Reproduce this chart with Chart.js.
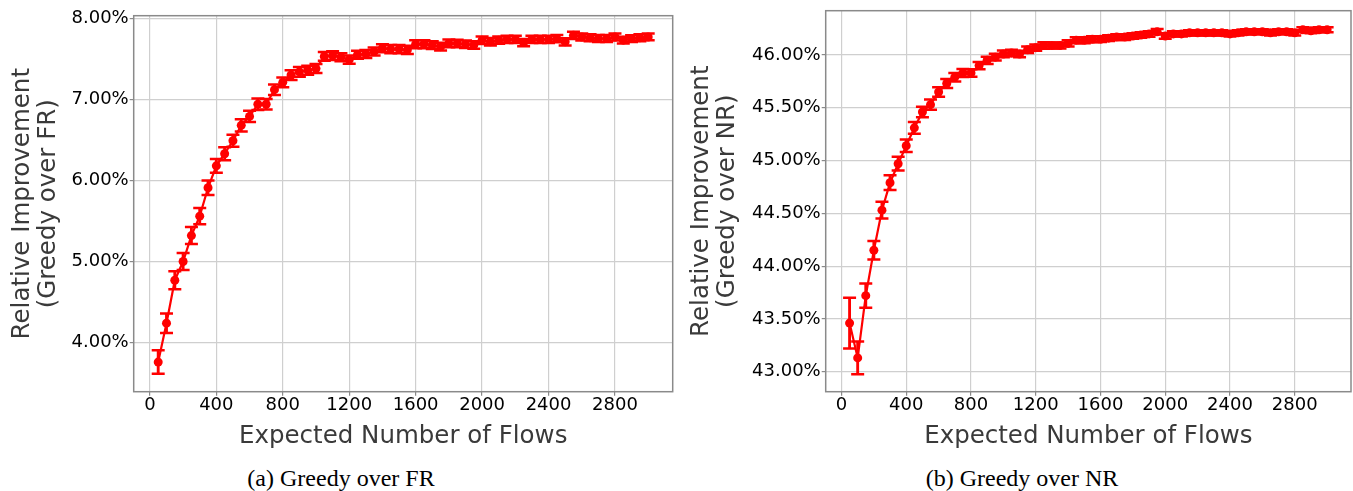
<!DOCTYPE html>
<html>
<head>
<meta charset="utf-8">
<script src="https://cdn.jsdelivr.net/npm/chart.js@4.4.0/dist/chart.umd.min.js"></script>
<style>
  html, body { margin: 0; padding: 0; background: #fff; overflow: hidden; width: 1353px; height: 491px; }
  #wrap { position: relative; width: 1353px; height: 491px; overflow: hidden; }
  canvas { position: absolute; top: 0; }
  .cap { position: absolute; top: 466px; line-height: 24px; font-family: "Liberation Serif", serif; font-size: 24px; color: #000; white-space: nowrap; transform: translateX(-50%); }
</style>
</head>
<body>
<div id="wrap">
  <canvas id="fr" width="690" height="460" style="left:0px"></canvas>
  <canvas id="nr" width="680" height="460" style="left:680px"></canvas>
  <div class="cap" style="left:341px">(a) Greedy over FR</div>
  <div class="cap" style="left:1022px">(b) Greedy over NR</div>
</div>
<script>
// expected number of flows (x values)
const flows = [50, 100, 150, 200, 250, 300, 350, 400, 450, 500,
  550, 600, 650, 700, 750, 800, 850, 900, 950, 1000,
  1050, 1100, 1150, 1200, 1250, 1300, 1350, 1400, 1450, 1500,
  1550, 1600, 1650, 1700, 1750, 1800, 1850, 1900, 1950, 2000,
  2050, 2100, 2150, 2200, 2250, 2300, 2350, 2400, 2450, 2500,
  2550, 2600, 2650, 2700, 2750, 2800, 2850, 2900, 2950, 3000];

// (a) greedy over FR, mean and half error (percent)
const frMean = [3.76, 4.24, 4.77, 5.00, 5.32, 5.56, 5.91, 6.18, 6.33, 6.49,
  6.68, 6.79, 6.94, 6.94, 7.12, 7.21, 7.30, 7.34, 7.36, 7.38,
  7.53, 7.54, 7.52, 7.49, 7.55, 7.56, 7.59, 7.63, 7.62, 7.62,
  7.61, 7.68, 7.68, 7.67, 7.65, 7.69, 7.69, 7.68, 7.67, 7.73,
  7.71, 7.73, 7.74, 7.74, 7.70, 7.74, 7.74, 7.74, 7.75, 7.71,
  7.79, 7.77, 7.76, 7.75, 7.75, 7.77, 7.73, 7.75, 7.76, 7.77];
const frErr = [0.145, 0.12, 0.11, 0.105, 0.105, 0.1, 0.09, 0.085, 0.08, 0.075,
  0.075, 0.07, 0.07, 0.065, 0.065, 0.06, 0.06, 0.06, 0.055, 0.055,
  0.055, 0.055, 0.05, 0.05, 0.05, 0.05, 0.05, 0.05, 0.05, 0.05,
  0.05, 0.048, 0.048, 0.048, 0.048, 0.048, 0.046, 0.046, 0.046, 0.046,
  0.046, 0.045, 0.045, 0.045, 0.045, 0.045, 0.044, 0.044, 0.044, 0.044,
  0.044, 0.043, 0.043, 0.043, 0.043, 0.043, 0.042, 0.042, 0.042, 0.042];

// (b) greedy over NR
const nrMean = [43.46, 43.13, 43.72, 44.15, 44.53, 44.79, 44.97, 45.14, 45.31, 45.46,
  45.53, 45.65, 45.73, 45.79, 45.83, 45.83, 45.90, 45.95, 45.98, 46.01,
  46.02, 46.01, 46.05, 46.07, 46.09, 46.09, 46.09, 46.11, 46.14, 46.14,
  46.15, 46.15, 46.16, 46.17, 46.17, 46.18, 46.19, 46.20, 46.22, 46.18,
  46.20, 46.20, 46.21, 46.21, 46.21, 46.21, 46.21, 46.20, 46.21, 46.22,
  46.22, 46.22, 46.21, 46.22, 46.22, 46.21, 46.24, 46.23, 46.24, 46.24];
const nrErr = [0.24, 0.155, 0.115, 0.087, 0.08, 0.07, 0.065, 0.06, 0.055, 0.05,
  0.048, 0.045, 0.042, 0.04, 0.038, 0.036, 0.035, 0.034, 0.033, 0.032,
  0.031, 0.031, 0.03, 0.03, 0.03, 0.029, 0.029, 0.029, 0.028, 0.028,
  0.028, 0.027, 0.027, 0.027, 0.027, 0.026, 0.026, 0.026, 0.026, 0.026,
  0.025, 0.025, 0.025, 0.025, 0.025, 0.025, 0.025, 0.025, 0.025, 0.025,
  0.024, 0.024, 0.024, 0.024, 0.024, 0.024, 0.024, 0.024, 0.024, 0.024];

// tick labels
const xTicks = [0, 400, 800, 1200, 1600, 2000, 2400, 2800];
const frTicks = [4, 5, 6, 7, 8];
const nrTicks = [43, 43.5, 44, 44.5, 45, 45.5, 46];

const RED = '#ff0000';
const FONT = 'DejaVu Sans';

// frame round the plot area (matplotlib spines)
const frame = {
  id: 'frame',
  afterDraw(chart) {
    const a = chart.chartArea, ctx = chart.ctx;
    ctx.save();
    ctx.strokeStyle = '#8a8a8a';
    ctx.lineWidth = 1.5;
    ctx.strokeRect(a.left, a.top, a.right - a.left, a.bottom - a.top);
    ctx.restore();
  }
};

function makeChart(id, mean, err, yTicks, yMin, yMax, yTitle, g) {
  const pts = flows.map((x, i) => ({ x: x, y: mean[i] }));
  const stems = flows.map((x, i) => ({ x: x, y: [mean[i] - err[i], mean[i] + err[i]] }));
  const lo = flows.map((x, i) => ({ x: x, y: mean[i] - err[i] }));
  const hi = flows.map((x, i) => ({ x: x, y: mean[i] + err[i] }));
  const cap = { type: 'line', showLine: false, pointStyle: 'line', pointRadius: 6.5,
    pointBorderWidth: 2.5, pointBorderColor: RED, borderColor: RED };

  return new Chart(document.getElementById(id), {
    type: 'line',
    data: {
      datasets: [
        { data: pts, borderColor: RED, borderWidth: 2.2, pointRadius: 4.5,
          pointBackgroundColor: RED, pointBorderWidth: 0, tension: 0 },
        { type: 'bar', data: stems, backgroundColor: RED, barThickness: 2.2, borderWidth: 0 },
        Object.assign({ data: lo }, cap),
        Object.assign({ data: hi }, cap)
      ]
    },
    options: {
      responsive: false,
      animation: false,
      events: [],
      devicePixelRatio: 1,
      layout: { padding: { top: g.top, right: g.right, left: 0, bottom: 0 } },
      plugins: { legend: { display: false }, tooltip: { enabled: false } },
      scales: {
        x: {
          type: 'linear', min: -97.5, max: 3147.5, offset: false,
          afterBuildTicks: s => { s.ticks = xTicks.map(v => ({ value: v })); },
          afterFit: s => { s.height = g.xh; },
          grid: { offset: false, color: '#cfcfcf', lineWidth: 1.2, tickColor: '#8a8a8a', tickLength: 4 },
          border: { display: false },
          ticks: { color: '#000', padding: 1, maxRotation: 0, autoSkip: false,
            font: { family: FONT, size: 18, lineHeight: 1 },
            callback: v => String(v) },
          title: { display: true, text: 'Expected Number of Flows', color: '#3a3a3a',
            font: { family: FONT, size: 24.5, lineHeight: 1.06 }, padding: { top: 0, bottom: 10 } }
        },
        y: {
          type: 'linear', min: yMin, max: yMax,
          afterBuildTicks: s => { s.ticks = yTicks.map(v => ({ value: v })); },
          afterFit: s => { s.width = g.yw; },
          grid: { color: '#cfcfcf', lineWidth: 1.2, tickColor: '#8a8a8a', tickLength: 4 },
          border: { display: false },
          ticks: { color: '#000', padding: 1, autoSkip: false,
            font: { family: FONT, size: 18, lineHeight: 1 },
            callback: v => Number(v).toFixed(2) + '%' },
          title: { display: true, text: yTitle, color: '#3a3a3a',
            font: { family: FONT, size: 24.5, lineHeight: 1.06 }, padding: { top: g.tp, bottom: 0 } }
        }
      }
    },
    plugins: [frame]
  });
}

makeChart('fr', frMean, frErr, frTicks, 3.395, 8.032,
  ['Relative Improvement', '(Greedy over FR)'],
  { top: 15.7, right: 17.3, xh: 68.3, yw: 133.7, tp: 10 });
makeChart('nr', nrMean, nrErr, nrTicks, 42.81, 46.42,
  ['Relative Improvement', '(Greedy over NR)'],
  { top: 10.7, right: 5.3, xh: 68.3, yw: 145.7, tp: 8.5 });
</script>
</body>
</html>
